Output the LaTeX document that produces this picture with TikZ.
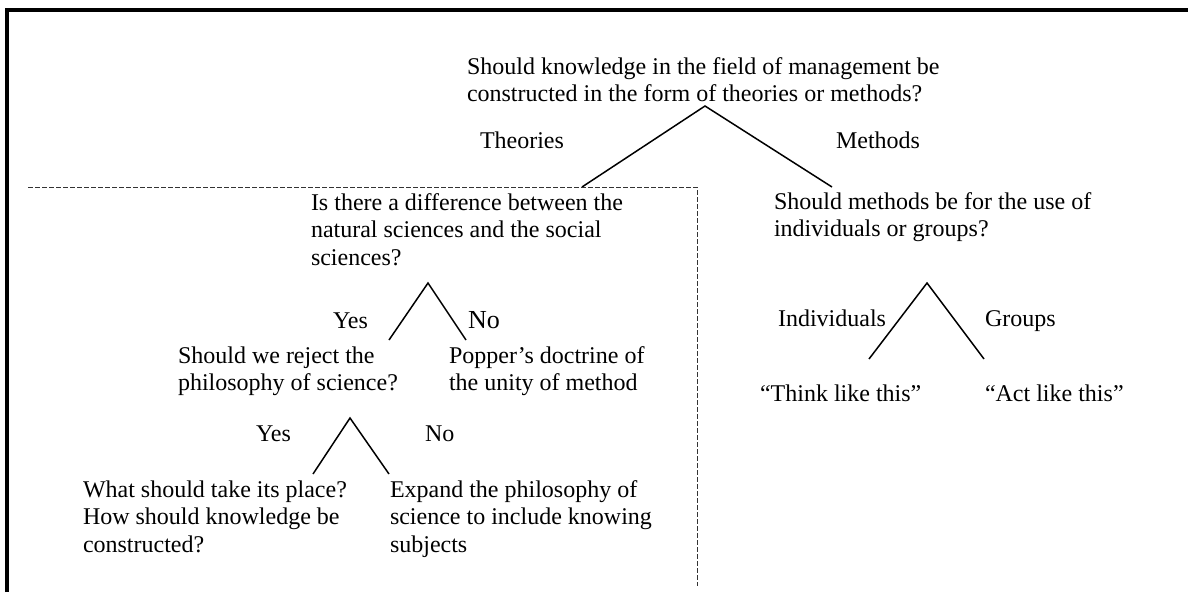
\documentclass[tikz,border=0pt]{standalone}
\usepackage{fontspec}
\setmainfont{Liberation Serif}
\begin{document}
\begin{tikzpicture}[x=1pt,y=-1pt,
  txt/.style={inner sep=0pt,outer sep=0pt,align=left,anchor=north west,
    font=\fontsize{24}{27.5}\selectfont},
  lbl/.style={inner sep=0pt,outer sep=0pt,anchor=west,text height=21pt,text depth=5pt,
    font=\fontsize{24}{27.5}\selectfont},
  bigl/.style={lbl,font=\fontsize{26}{29}\selectfont},
  branch/.style={line width=1.5pt,black},
  sep/.style={line width=1pt,black!80,dash pattern=on 4.5pt off 2.5pt},
  frame/.style={line width=4pt,black}]
\useasboundingbox (0,0) rectangle (1188,592);
% frame (left and top edges)
\draw[frame] (7,592) -- (7,9.5) -- (1188,9.5);

% top question
\node[txt] (q1) at (467,57.5) {Should knowledge in the field of management be\\constructed in the form of theories or methods?};
\node[lbl] (lTheo) at (480,140) {Theories};
\node[lbl] (lMeth) at (836,140) {Methods};
\coordinate (a1) at (705,106);
\coordinate (e1l) at (582,187);
\coordinate (e1r) at (832,187);
\draw[branch] (e1l) -- (a1) -- (e1r);

% dashed separator
\coordinate (d1) at (28,187);
\coordinate (d2) at (697,187);
\coordinate (d3) at (697,586);
\draw[sep] (d1) -- (d2) -- (d3);

% theories branch
\node[txt] (q2) at (311,193.5) {Is there a difference between the\\natural sciences and the social\\sciences?};
\coordinate (a2) at (428,283);
\coordinate (e2l) at (389,340);
\coordinate (e2r) at (466,340);
\draw[branch] (e2l) -- (a2) -- (e2r);
\node[lbl] (lYes1) at (333,320) {Yes};
\node[bigl] (lNo1) at (468,320) {No};

\node[txt] (q4) at (178,346.5) {Should we reject the\\philosophy of science?};
\node[txt] (n5) at (449,346.5) {Popper’s doctrine of\\the unity of method};

\coordinate (a3) at (350,418);
\coordinate (e3l) at (313,474);
\coordinate (e3r) at (389,474);
\draw[branch] (e3l) -- (a3) -- (e3r);
\node[lbl] (lYes2) at (256,433) {Yes};
\node[lbl] (lNo2) at (425,433) {No};

\node[txt] (q6) at (83,480.5) {What should take its place?\\How should knowledge be\\constructed?};
\node[txt] (n7) at (390,480.5) {Expand the philosophy of\\science to include knowing\\subjects};

% methods branch
\node[txt] (q3) at (774,192.5) {Should methods be for the use of\\individuals or groups?};
\coordinate (a4) at (927,283);
\coordinate (e4l) at (869,359);
\coordinate (e4r) at (984,359);
\draw[branch] (e4l) -- (a4) -- (e4r);
\node[lbl] (lInd) at (778,318) {Individuals};
\node[lbl] (lGrp) at (985,318) {Groups};
\node[lbl] (n8) at (760,393) {“Think like this”};
\node[lbl] (n9) at (985,393) {“Act like this”};
\end{tikzpicture}
\end{document}
